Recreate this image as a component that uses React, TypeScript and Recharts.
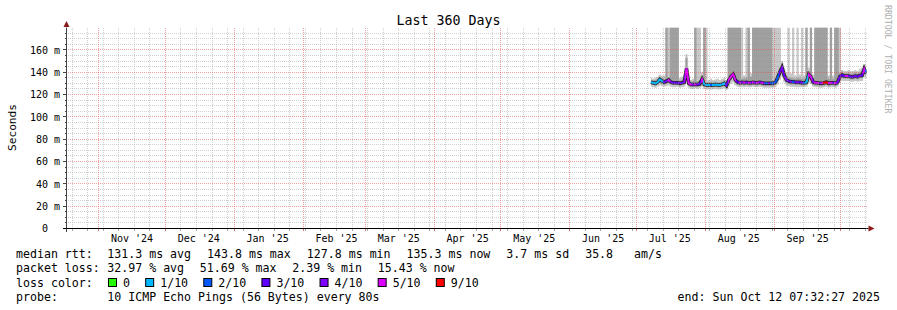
import React from 'react';
import { ComposedChart, Area, Line, XAxis, YAxis, ReferenceLine, ReferenceDot } from 'recharts';

const FONT = '"DejaVu Sans Mono", "Liberation Mono", monospace';

// days since the graph start (Oct 17 2024 07:32), one sample per day
const sampleDays = [
  263, 264, 265, 266, 267, 268, 269, 270, 271, 272,
  273, 274, 275, 276, 277, 278, 279, 280, 281, 282,
  283, 284, 285, 286, 287, 288, 289, 290, 291, 292,
  293, 294, 295, 296, 297, 298, 299, 300, 301, 302,
  303, 304, 305, 306, 307, 308, 309, 310, 311, 312,
  313, 314, 315, 316, 317, 318, 319, 320, 321, 322,
  323, 324, 325, 326, 327, 328, 329, 330, 331, 332,
  333, 334, 335, 336, 337, 338, 339, 340, 341, 342,
  343, 344, 345, 346, 347, 348, 349, 350, 351, 352,
  353, 354, 355, 356, 357, 358, 359, 360,
];

// median rtt (ms)
const medianRtt = [
  131, 130.5, 130, 131, 133.5, 132, 131, 132, 133, 131,
  130.5, 130.5, 130.5, 130, 130.5, 131, 143.5, 130, 129, 129,
  129, 129, 129.5, 133.5, 129, 128.5, 128.5, 128.5, 128.5, 129,
  128.5, 128.5, 129, 130, 128, 133, 136, 138, 133, 131,
  130.5, 131, 130.5, 131, 130.5, 130.5, 131, 130.5, 130.5, 131,
  130.5, 130, 130, 130, 130, 130, 131, 135, 140, 144,
  137, 133, 132, 131.5, 131.5, 131, 131, 131, 130.5, 130.5,
  131, 138, 136, 131, 130.5, 130.5, 130, 130, 130.5, 131,
  130, 130.5, 130.5, 130, 131, 136, 137.5, 136.5, 136.5, 136.5,
  136, 136, 136.5, 136, 137, 137, 143, 139,
];

// lost pings out of 10
const lossLevel = [
  1, 1, 1, 1, 1, 1, 3, 4, 5, 4,
  3, 4, 3, 4, 3, 4, 5, 5, 5, 4,
  5, 4, 3, 5, 1, 1, 1, 2, 1, 1,
  1, 1, 1, 1, 3, 5, 5, 5, 5, 3,
  5, 4, 5, 4, 5, 4, 5, 4, 5, 4,
  5, 4, 2, 4, 2, 2, 2, 2, 3, 4,
  3, 4, 3, 4, 2, 3, 4, 3, 4, 2,
  1, 5, 5, 4, 5, 5, 4, 5, 9, 9,
  5, 5, 4, 5, 4, 3, 3, 3, 5, 3,
  4, 3, 4, 3, 4, 3, 5, 2,
];

// outer smoke band (ms)
const smokeLow = [
  127, 126.5, 126, 127, 128, 127.5, 127, 127.5, 128, 127,
  126.5, 126.5, 127, 126, 126.5, 127, 131, 126, 125, 125,
  125.5, 125, 125.5, 127, 125, 124.5, 124.5, 124.5, 124.5, 125,
  124.5, 124.5, 125, 125.5, 124, 127, 129.5, 131, 128, 127,
  126.5, 127, 126.5, 127, 126.5, 126.5, 127, 126.5, 126.5, 127,
  126.5, 126, 126, 126, 126, 126, 126.5, 129, 133, 136,
  131, 128, 127.5, 127, 127, 126.5, 126.5, 126.5, 126.5, 126.5,
  127, 130.5, 129.5, 127, 126.5, 126.5, 126, 126, 126.5, 127,
  126, 126.5, 126.5, 126, 127, 130, 132, 132, 132, 132,
  131.5, 131.5, 132, 131.5, 132, 132, 136, 134,
];
const smokeHigh = [
  135, 134, 135, 136, 138, 137, 137, 136, 137, 135,
  135, 134.5, 135, 135, 136, 137, 156, 134, 133, 134,
  135, 134, 135, 140, 134, 133, 133, 134, 133, 133.5,
  134, 133, 134, 135, 133, 138, 141, 143, 139, 136,
  137, 136, 137, 138, 136, 139, 137, 138, 137, 139,
  137, 138, 136, 137, 136, 134, 135, 140, 146, 150,
  144, 139, 138, 139, 137, 137, 138, 138, 137, 137,
  136, 144, 143, 138, 137, 139, 137, 138, 140, 139,
  137, 138, 137, 136, 137, 141, 142, 141, 141, 142,
  141, 141, 142, 141, 143, 144, 147, 143,
];

// inner smoke band (ms)
const coreLow = [
  129, 128.5, 128, 129, 130.5, 129.5, 129, 129.5, 130.5, 129,
  128.5, 128.5, 128.5, 128, 128.5, 129, 135, 128, 127, 127,
  127, 127, 127.5, 130, 127, 126.5, 126.5, 126.5, 126.5, 127,
  126.5, 126.5, 127, 127.5, 126, 130, 133, 135, 130.5, 128.5,
  128, 128.5, 128, 128.5, 128, 128, 128.5, 128, 128, 128.5,
  128, 127.5, 127.5, 127.5, 127.5, 127.5, 128.5, 132, 137, 140,
  134, 130.5, 129.5, 129, 129, 128.5, 128.5, 128.5, 128, 128,
  128.5, 134.5, 133, 128.5, 128, 128, 127.5, 127.5, 128, 128.5,
  127.5, 128, 128, 127.5, 128.5, 133, 134.5, 134, 134, 134,
  133.5, 133.5, 134, 133.5, 134.5, 134.5, 139, 136.5,
];
const coreHigh = [
  133, 132.5, 133, 134, 136, 135, 134, 134.5, 135.5, 133.5,
  133, 133, 133, 132.5, 133.5, 134, 153, 132.5, 131.5, 132,
  132, 132, 133, 137, 131.5, 131, 131, 131.5, 131, 131.5,
  131, 131, 131.5, 132.5, 131, 136, 139, 141, 136.5, 134,
  134, 134, 134.5, 135, 133.5, 136, 134, 135, 134, 136,
  134, 135, 133, 134, 133, 132.5, 133.5, 138, 144, 148,
  141, 136.5, 135.5, 135, 134.5, 134, 135, 134.5, 134, 134,
  134, 141, 140, 134.5, 134, 135, 134, 135, 137, 136,
  134, 135, 134, 133.5, 134, 139.5, 140.5, 139, 139, 139.5,
  138.5, 139, 140, 139, 140, 141, 146, 141,
];

// pings above the top of the scale: 0 none, 1 slowest ping, 2 two slowest pings
const offScale = [
  0, 0, 0, 0, 0, 0, 0, 2, 1, 2,
  2, 2, 2, 0, 0, 0, 0, 0, 0, 0,
  2, 1, 1, 0, 2, 1, 0, 0, 0, 0,
  0, 0, 0, 0, 0, 2, 2, 2, 2, 2,
  2, 1, 0, 1, 2, 0, 2, 2, 2, 2,
  2, 2, 2, 2, 2, 1, 1, 1, 1, 0,
  0, 0, 1, 0, 1, 0, 1, 0, 1, 0,
  2, 0, 2, 0, 2, 2, 2, 2, 2, 2,
  0, 2, 0, 2, 2, 1, 0, 0, 0, 0,
  0, 0, 0, 0, 0, 0, 0, 0,
];

const SCALE_TOP = 180;
const yMajorTicks = [0, 20, 40, 60, 80, 100, 120, 140, 160];
const yMinorTicks = [5, 10, 15, 25, 30, 35, 45, 50, 55, 65, 70, 75, 85, 90, 95, 105, 110, 115, 125, 130, 135, 145, 150, 155, 165, 170, 175];
const monthStartDays = [14.5, 44.5, 75.5, 106.5, 134.5, 165.5, 195.5, 226.5, 256.5, 287.5, 318.5, 348.5];
const monthLabels = ["Nov '24", "Dec '24", "Jan '25", "Feb '25", "Mar '25", "Apr '25", "May '25", "Jun '25", "Jul '25", "Aug '25", "Sep '25"];
const firstSunday = 2.5;

const lossColors: Record<number, string> = {
  0: '#26ff00', 1: '#00b8ff', 2: '#0059ff', 3: '#5e00ff', 4: '#7e00ff', 5: '#dd00ff', 9: '#ff0000',
};
const lossLegend = [
  { label: '0', level: 0 }, { label: '1/10', level: 1 }, { label: '2/10', level: 2 },
  { label: '3/10', level: 3 }, { label: '4/10', level: 4 }, { label: '5/10', level: 5 }, { label: '9/10', level: 9 },
];
const rttStats = ['131.3 ms avg', '143.8 ms max', '127.8 ms min', '135.3 ms now', '3.7 ms sd', '35.8   am/s'];
const lossStats = ['32.97 % avg', '51.69 % max', '2.39 % min', '15.43 % now'];
const probeText = '10 ICMP Echo Pings (56 Bytes) every 80s';
const endText = 'end: Sun Oct 12 07:32:27 2025';

// derived tables
const labelDays = monthLabels.map((_, i) => monthStartDays[i] + 15);
const weekDays: number[] = [];
for (let d = firstSunday; d < 360; d += 7) if (!monthStartDays.includes(d)) weekDays.push(d);

const table = sampleDays.map((day, i) => ({
  day,
  median: medianRtt[i],
  outer: [smokeLow[i], offScale[i] >= 1 ? SCALE_TOP : smokeHigh[i]],
  core: [coreLow[i], offScale[i] === 2 ? SCALE_TOP : coreHigh[i]],
}));

const d0 = sampleDays[0];
const dN = sampleDays[sampleDays.length - 1];
const gradStops: { offset: number; color: string }[] = [];
sampleDays.forEach((d, i) => {
  const a = i === 0 ? d0 : (sampleDays[i - 1] + d) / 2;
  const b = i === sampleDays.length - 1 ? dN : (d + sampleDays[i + 1]) / 2;
  const c = lossColors[lossLevel[i]];
  gradStops.push({ offset: (a - d0) / (dN - d0), color: c });
  gradStops.push({ offset: (b - d0) / (dN - d0), color: c });
});

const MINOR_GRID = 'rgba(143,143,143,0.42)';
const MAJOR_GRID = 'rgba(230,80,80,0.55)';
const ARROW = '#8b1a1a';

const YTick = (props: any) => {
  const { x, y, payload } = props;
  const v = payload.value;
  const major = v % 20 === 0;
  return (
    <g>
      <line x1={major ? x - 3.5 : x - 2} x2={x} y1={y} y2={y} stroke={v === 0 ? '#000' : '#444'} shapeRendering="crispEdges" />
      {v === 0 && <line x1={x} x2={x} y1={y} y2={y + 3} stroke="#444" shapeRendering="crispEdges" />}
      {major && (
        <text x={x - 18.5} y={y + 3.7} textAnchor="end" fontFamily={FONT} fontSize={10} fill="#000">{v}</text>
      )}
      {major && v > 0 && (
        <text x={x - 12.5} y={y + 3.7} textAnchor="start" fontFamily={FONT} fontSize={10} fill="#000">m</text>
      )}
    </g>
  );
};

const XTick = (props: any) => {
  const { x, y, payload } = props;
  const v = payload.value;
  const li = labelDays.indexOf(v);
  const isMonth = monthStartDays.includes(v);
  const isWeek = weekDays.includes(v);
  return (
    <g>
      {isMonth && <line x1={x} x2={x} y1={y} y2={y + 2.5} stroke="#e07070" shapeRendering="crispEdges" />}
      {isWeek && <line x1={x} x2={x} y1={y} y2={y + 2} stroke="#aaaaaa" shapeRendering="crispEdges" />}
      {li >= 0 && (
        <text x={x} y={y + 13.2} textAnchor="middle" fontFamily={FONT} fontSize={10} fill="#000">{monthLabels[li]}</text>
      )}
    </g>
  );
};

const UpArrow = (p: any) => (
  <path d={`M${p.cx - 3},${p.cy - 0.5} L${p.cx + 3},${p.cy - 0.5} L${p.cx},${p.cy - 6.5} Z`} fill={ARROW} />
);
const RightArrow = (p: any) => (
  <g>
    <line x1={p.cx} x2={p.cx + 2} y1={p.cy} y2={p.cy} stroke="#000" />
    <path d={`M${p.cx + 2},${p.cy - 3} L${p.cx + 2},${p.cy + 3} L${p.cx + 8},${p.cy} Z`} fill={ARROW} />
  </g>
);

const CH = 6.98;
function placeItems(start: number, items: string[], gap: number) {
  let x = start;
  return items.map((s) => {
    const cur = x;
    x += s.length * CH + gap;
    return { s, x: cur };
  });
}

const legendText = { fontFamily: FONT, fontSize: 11.6, fill: '#000', whiteSpace: 'pre' as const };

function Overlay() {
  const row1 = placeItems(107.3, rttStats, 16);
  const row2 = placeItems(107.3, lossStats, 15.7);
  let bx = 108;
  const boxes = lossLegend.map((it) => {
    const cur = bx;
    bx += 15 + it.label.length * CH + 15.2;
    return { ...it, x: cur };
  });
  return (
    <svg width={897} height={310} style={{ position: 'absolute', left: 0, top: 0, pointerEvents: 'none' }}>
      <text x={448.5} y={24.5} textAnchor="middle" fontFamily={FONT} fontSize={13.3} fill="#000">Last 360 Days</text>
      <text x={15.5} y={127.5} transform="rotate(-90 15.5 127.5)" textAnchor="middle" fontFamily={FONT} fontSize={11.2} fill="#000">Seconds</text>
      <text x={884.5} y={5} transform="rotate(90 884.5 5)" fontFamily={FONT} fontSize={8.2} fill="#b0b0b0">RRDTOOL / TOBI OETIKER</text>

      <text x={16} y={258.3} style={legendText}>median rtt:</text>
      {row1.map((r) => (
        <text key={r.s} x={r.x} y={258.3} style={legendText}>{r.s}</text>
      ))}
      <text x={16} y={272.4} style={legendText}>packet loss:</text>
      {row2.map((r) => (
        <text key={r.s} x={r.x} y={272.4} style={legendText}>{r.s}</text>
      ))}
      <text x={16} y={286.6} style={legendText}>loss color:</text>
      {boxes.map((b) => (
        <g key={b.label}>
          <rect x={b.x + 0.5} y={278.5} width={8} height={8} fill={lossColors[b.level]} stroke="#000" strokeWidth={1} />
          <text x={b.x + 15} y={286.6} style={legendText}>{b.label}</text>
        </g>
      ))}
      <text x={16} y={300.5} style={legendText}>probe:</text>
      <text x={107.3} y={300.5} style={legendText}>{probeText}</text>
      <text x={880} y={300.5} textAnchor="end" style={legendText}>{endText}</text>
    </svg>
  );
}

export default function App() {
  const xTicks = Array.from(new Set([...weekDays, ...monthStartDays, ...labelDays]));
  const yTicks = [...yMinorTicks, ...yMajorTicks];
  const gridProps = { strokeDasharray: '1 1', strokeDashoffset: 0.5, shapeRendering: 'crispEdges' } as any;
  return (
    <div style={{ position: 'absolute', left: 0, top: 0, width: 897, height: 310, background: '#fff' }}>
      <ComposedChart width={897} height={310} data={table} margin={{ top: 27.5, right: 30.5, bottom: 61.5, left: 0.5 }}>
        <defs>
          <linearGradient id="lossGradient" x1="0" y1="0" x2="1" y2="0">
            {gradStops.map((s, i) => (
              <stop key={i} offset={s.offset} stopColor={s.color} />
            ))}
          </linearGradient>
        </defs>
        <XAxis
          dataKey="day"
          type="number"
          domain={[0, 360]}
          ticks={xTicks}
          interval={0}
          tick={<XTick />}
          tickLine={false}
          tickSize={0}
          tickMargin={0}
          height={20}
          axisLine={{ stroke: '#000' }}
          allowDataOverflow
        />
        <YAxis
          type="number"
          domain={[0, SCALE_TOP]}
          ticks={yTicks}
          interval={0}
          tick={<YTick />}
          tickLine={false}
          tickSize={0}
          tickMargin={0}
          width={66}
          axisLine={{ stroke: '#444' }}
          allowDataOverflow
        />
        <Area dataKey="outer" type="step" stroke="none" fill="#c8c8c8" fillOpacity={1} isAnimationActive={false} dot={false} activeDot={false} />
        <Area dataKey="core" type="step" stroke="none" fill="#a0a0a0" fillOpacity={1} isAnimationActive={false} dot={false} activeDot={false} />
        <Line dataKey="median" type="linear" stroke="#222" strokeWidth={3.5} dot={false} activeDot={false} isAnimationActive={false} />
        <Line dataKey="median" type="linear" stroke="url(#lossGradient)" strokeWidth={2} dot={false} activeDot={false} isAnimationActive={false} />
        {yMinorTicks.map((v) => (
          <ReferenceLine key={'ym' + v} y={v} stroke={MINOR_GRID} {...gridProps} />
        ))}
        {weekDays.map((d) => (
          <ReferenceLine key={'xw' + d} x={d} stroke={MINOR_GRID} {...gridProps} />
        ))}
        {yMajorTicks.filter((v) => v > 0).map((v) => (
          <ReferenceLine key={'yM' + v} y={v} stroke={MAJOR_GRID} {...gridProps} />
        ))}
        {monthStartDays.map((d) => (
          <ReferenceLine key={'xM' + d} x={d} stroke={MAJOR_GRID} {...gridProps} />
        ))}
        <ReferenceDot x={0} y={SCALE_TOP} r={0} ifOverflow="visible" shape={UpArrow} />
        <ReferenceDot x={360} y={0} r={0} ifOverflow="visible" shape={RightArrow} />
      </ComposedChart>
      <Overlay />
    </div>
  );
}
